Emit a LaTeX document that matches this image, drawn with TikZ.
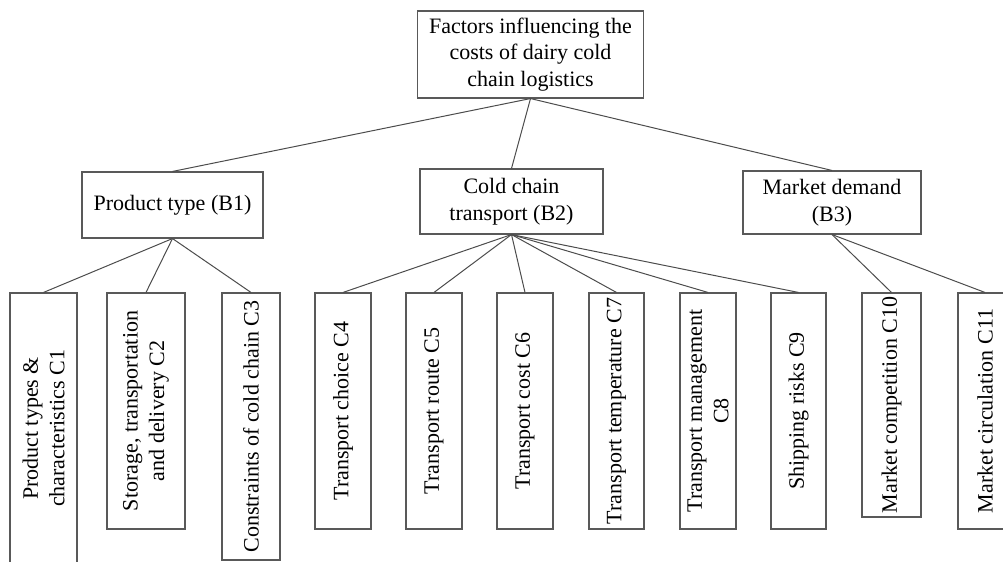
\documentclass[tikz,border=0pt]{standalone}
\usepackage{fontspec}
\setmainfont{Liberation Serif}
\usepackage{tikz}

\begin{document}
\begin{tikzpicture}[x=0.5pt,y=-0.5pt,
  box/.style={draw=black!65,line width=0.55pt,fill=white,inner sep=1pt,align=center,
    font=\fontsize{11}{13.25}\selectfont},
  cbox/.style={box,rotate=90,minimum width=#1*0.5pt,minimum height=28pt},
  link/.style={draw=black!70,line width=0.5pt}]
\useasboundingbox (0,0) rectangle (1003,562);
\clip (0,0) rectangle (1003,562);
% top and second level
\node[box,minimum width=113pt,minimum height=43.5pt] (goal) at (530.5,54.5)
  {Factors influencing the\\costs of dairy cold\\chain logistics};
\node[box,minimum width=90.5pt,minimum height=33pt] (b1) at (172.5,205) {Product type (B1)};
\node[box,minimum width=91.5pt,minimum height=32.5pt] (b2) at (511.5,201.5) {Cold chain\\transport (B2)};
\node[box,minimum width=89pt,minimum height=31.5pt] (b3) at (832,202.5) {Market demand\\(B3)};
% third level
\node[cbox=271,minimum height=33.5pt] (c1) at (43.5,428.5) {Product types \&\\characteristics C1};
\node[cbox=236,minimum height=39pt] (c2) at (146,411) {Storage, transportation\\and delivery C2};
\node[cbox=267,minimum height=29pt] (c3) at (251,426.5) {Constraints of cold chain C3};
\node[cbox=236] (c4) at (343,411) {Transport choice C4};
\node[cbox=236] (c5) at (434,411) {Transport route C5};
\node[cbox=236] (c6) at (525,411) {Transport cost C6};
\node[cbox=236,minimum height=27.5pt] (c7) at (616.5,411) {Transport temperature C7};
\node[cbox=236] (c8) at (708,411) {Transport management\\C8};
\node[cbox=236,minimum height=27.5pt] (c9) at (798.5,411) {Shipping risks C9};
\node[cbox=224,minimum height=29.5pt] (c10) at (891.5,405) {Market competition C10};
\node[cbox=236,minimum height=27pt] (c11) at (985,411) {Market circulation C11};
% connectors
\foreach \b in {b1,b2,b3}
  \path[link] (goal.south) -- (\b.north);
\foreach \c in {c1,c2,c3}
  \path[link] (b1.south) -- (\c.east);
\foreach \c in {c4,c5,c6,c7,c8,c9}
  \path[link] (b2.south) -- (\c.east);
\foreach \c in {c10,c11}
  \path[link] (b3.south) -- (\c.east);
\end{tikzpicture}
\end{document}
